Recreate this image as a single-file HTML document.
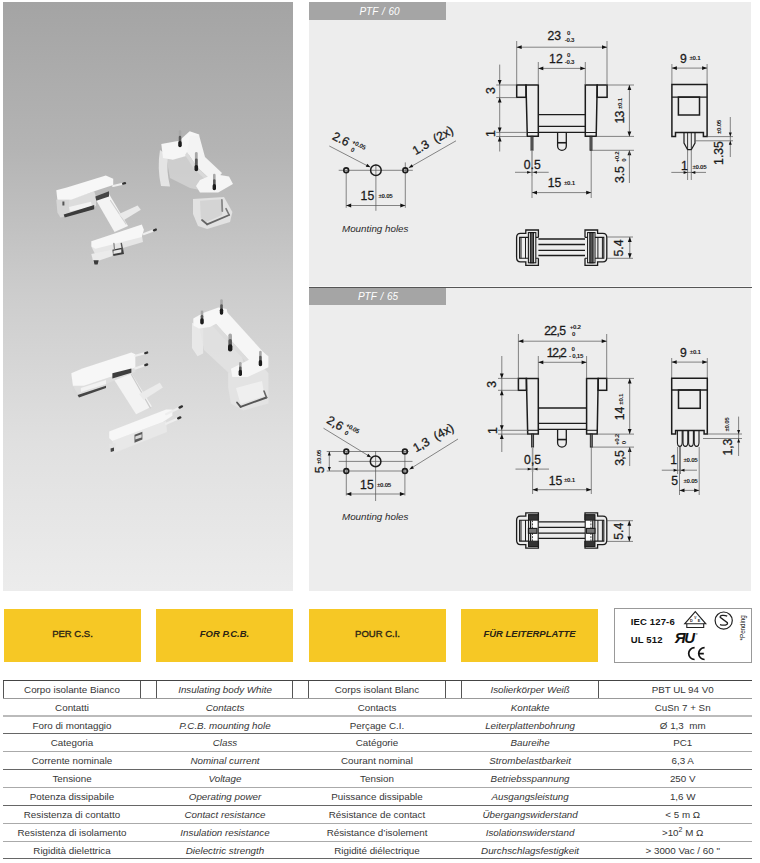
<!DOCTYPE html>
<html><head><meta charset="utf-8">
<style>
html,body{margin:0;padding:0;background:#fff;}
body{width:760px;height:863px;position:relative;overflow:hidden;font-family:"Liberation Sans",sans-serif;color:#222;}
.a{position:absolute;}
.photo{left:3px;top:2px;width:290px;height:589px;background:linear-gradient(180deg,#a4a4a4 0%,#b4b4b4 25%,#cdcdcd 50%,#e0e0e0 75%,#ececec 100%);overflow:hidden;}
.panel{left:309px;width:442px;background:#ededed;}
.hdr{left:309px;width:137px;height:17px;background:#a5a5a5;color:#fff;font-style:italic;font-size:10px;line-height:18px;text-align:center;box-sizing:border-box;padding-left:4px;word-spacing:1px;}
.yel{top:609px;height:53px;width:137px;background:#f6c825;color:#2b2414;font-size:9.5px;line-height:50px;text-align:center;-webkit-text-stroke:0.35px #2b2414;}
.yb{font-weight:bold;-webkit-text-stroke:0;}
.cert{left:614px;top:608px;width:136px;height:53px;border:1px solid #999;background:#fff;}
.hl{position:absolute;height:1px;left:3px;width:749px;}
.cell{position:absolute;height:17px;line-height:17px;font-size:9.8px;text-align:center;width:137px;color:#363636;}
.i{font-style:italic;}
.vl{position:absolute;width:1px;background:#555;top:681px;height:17px;}
</style></head>
<body>
<div class="a photo"></div>
<div class="a panel" style="top:2px;height:285px;"></div>
<div class="a" style="left:309px;top:286px;width:442px;height:1px;background:#f6f6f6;"></div>
<div class="a hdr" style="top:2px;height:18px;line-height:19px;">PTF / 60</div>
<div class="a" style="left:309px;top:287px;width:443px;height:1px;background:#555;"></div>
<div class="a panel" style="top:288px;height:303px;"></div>
<div class="a hdr" style="top:288px;padding-left:1px;line-height:18px;">PTF / 65</div>

<div class="a yel" style="left:4px;">PER C.S.</div>
<div class="a yel i yb" style="left:156px;">FOR P.C.B.</div>
<div class="a yel" style="left:309px;">POUR C.I.</div>
<div class="a yel i yb" style="left:461px;">FÜR LEITERPLATTE</div>
<div class="a cert"></div>

<!-- table lines -->
<div class="hl" style="top:680px;background:#444;"></div>
<div class="hl" style="top:698px;background:#999;"></div>
<div class="hl" style="top:715px;background:#bbb;height:2px;"></div>
<div class="hl" style="top:733px;background:#666;"></div>
<div class="hl" style="top:751px;background:#aaa;"></div>
<div class="hl" style="top:769px;background:#666;"></div>
<div class="hl" style="top:787px;background:#aaa;"></div>
<div class="hl" style="top:805px;background:#666;"></div>
<div class="hl" style="top:823px;background:#aaa;"></div>
<div class="hl" style="top:841px;background:#aaa;"></div>
<div class="hl" style="top:858px;background:#666;"></div>
<div class="vl" style="left:3px;"></div>
<div class="vl" style="left:140px;"></div>
<div class="vl" style="left:156px;"></div>
<div class="vl" style="left:292px;"></div>
<div class="vl" style="left:308px;"></div>
<div class="vl" style="left:445px;"></div>
<div class="vl" style="left:461px;"></div>
<div class="vl" style="left:598px;"></div>

<!--SVG-->
<svg class="a" style="left:0;top:0" width="760" height="863" viewBox="0 0 760 863" font-family="Liberation Sans, sans-serif">
<defs><filter id="pb" x="-5%" y="-5%" width="110%" height="110%"><feGaussianBlur stdDeviation="0.6"/></filter></defs>
<g filter="url(#pb)"><polygon points="96.0,200.0 109.0,194.0 128.0,226.0 114.5,232.0" fill="#f4f4f4"/>
<line x1="110.5" y1="200.5" x2="126" y2="224" stroke="#d0d0d0" stroke-width="1.2" stroke-linecap="round"/>
<polygon points="119.0,214.0 137.6,205.5 140.8,209.7 124.0,220.0" fill="#eaeaea"/>
<polygon points="56.3,199.7 69.0,199.7 69.0,215.5 60.5,217.6 57.4,212.4" fill="#d6d6d6"/>
<polygon points="69.0,199.7 94.2,191.3 96.0,197.0 96.0,206.0 64.7,217.6 69.0,212.0" fill="#dcdcdc"/>
<polygon points="56.3,190.3 66.8,187.6 105.8,175.5 113.2,178.7 113.2,185.0 94.2,191.3 71.0,199.7 57.4,199.7" fill="#f7f7f7"/>
<polygon points="69.0,207.1 91.0,201.8 92.1,207.1 70.0,211.3" fill="#f2f2f2"/>
<polygon points="63.7,214.5 94.2,205.0 94.2,209.2 64.7,217.6" fill="#3a3a3a"/>
<polygon points="62.4,201.5 64.4,201.5 64.4,205.5 62.4,205.5" fill="#555"/>
<polygon points="95.3,196.6 109.0,191.3 109.0,196.6 96.3,200.8" fill="#454545"/>
<line x1="113.2" y1="186" x2="125" y2="183.2" stroke="#eeeeee" stroke-width="2.2" stroke-linecap="round"/>
<line x1="123.23" y1="183.62" x2="125" y2="183.2" stroke="#333" stroke-width="2.4" stroke-linecap="round"/>
<polygon points="91.3,246.6 141.8,235.0 143.0,242.0 96.0,256.0" fill="#e6e6e6"/>
<polygon points="91.3,241.3 141.8,224.5 143.9,229.7 141.8,237.1 95.5,248.7 91.3,246.6" fill="#f7f7f7"/>
<line x1="144" y1="234" x2="155.8" y2="229.6" stroke="#eeeeee" stroke-width="2.2" stroke-linecap="round"/>
<line x1="154.03" y1="230.26" x2="155.8" y2="229.6" stroke="#333" stroke-width="2.4" stroke-linecap="round"/>
<polygon points="91.3,254.0 112.4,249.7 112.4,256.0 93.4,262.4" fill="#ebebeb"/>
<polygon points="112.4,249.7 122.9,247.6 124.0,254.0 113.4,256.0" fill="#3d3d3d"/>
<polygon points="113.4,250.8 121.3,249.2 121.3,252.4 113.4,254.0" fill="#e6e6e6"/>
<line x1="113.9" y1="243.4" x2="114.5" y2="249.7" stroke="#777" stroke-width="1.1" stroke-linecap="round"/>
<line x1="121.3" y1="243.4" x2="122.4" y2="249.2" stroke="#555" stroke-width="1.4" stroke-linecap="round"/>
<polygon points="93.4,260.3 98.7,260.3 97.6,264.5 94.5,264.5" fill="#3a3a3a"/>
<path d="M160,150 Q157,168 161,186 L170,186.5 Q166,170 168,156 Z" fill="#ececec" fill-opacity="0.85"/>
<polygon points="166.0,156.0 186.0,152.0 198.0,168.0 210.0,184.0 200.0,190.0 190.0,188.0 170.0,178.0" fill="#dedede" fill-opacity="0.6"/>
<polygon points="161.3,143.9 179.2,140.8 189.7,131.3 199.2,134.5 198.2,149.2 186.0,156.0 172.9,159.7 163.0,158.0" fill="#f6f6f6"/>
<polygon points="190.0,136.0 199.0,135.0 205.0,157.0 222.0,173.0 214.0,183.0 197.0,167.0 187.0,152.0" fill="#f3f3f3"/>
<polygon points="187.0,152.0 197.0,167.0 214.0,183.0 210.0,184.0 194.0,169.0 185.0,155.0" fill="#d9d9d9"/>
<polygon points="200.0,180.0 214.0,174.0 229.0,176.6 233.0,184.0 218.2,192.4 200.0,192.4 196.0,186.0" fill="#f5f5f5"/>
<polygon points="193.0,199.0 224.0,197.0 232.4,212.0 230.0,222.0 207.1,229.0 198.0,226.0 193.0,214.0" fill="#e2e2e2"/>
<polygon points="200.0,200.8 222.1,199.2 222.1,215.0 206.3,222.1 200.8,218.1" fill="#d4d4d4"/>
<line x1="202" y1="220" x2="207.1" y2="224.3" stroke="#666" stroke-width="1.8" stroke-linecap="round"/>
<line x1="207.1" y1="224.3" x2="229.2" y2="215" stroke="#666" stroke-width="1.8" stroke-linecap="round"/>
<line x1="229.2" y1="215" x2="226" y2="208.7" stroke="#777" stroke-width="1.6" stroke-linecap="round"/>
<line x1="221.9" y1="200" x2="222.3" y2="211" stroke="#888" stroke-width="1.8" stroke-linecap="round"/>
<line x1="180" y1="131.5" x2="180" y2="145.5" stroke="#a8a8a8" stroke-width="2.6" stroke-linecap="round"/>
<line x1="180" y1="137.1" x2="180" y2="145.5" stroke="#5a5a5a" stroke-width="2.5" stroke-linecap="round"/>
<line x1="180" y1="142.7" x2="180" y2="145.5" stroke="#1c1c1c" stroke-width="3.4" stroke-linecap="round"/>
<line x1="196.3" y1="153.4" x2="196.3" y2="169.5" stroke="#a8a8a8" stroke-width="2.8000000000000003" stroke-linecap="round"/>
<line x1="196.3" y1="159.84" x2="196.3" y2="169.5" stroke="#5a5a5a" stroke-width="2.7" stroke-linecap="round"/>
<line x1="196.3" y1="166.7" x2="196.3" y2="169.5" stroke="#1c1c1c" stroke-width="3.6" stroke-linecap="round"/>
<line x1="214.3" y1="175" x2="214.3" y2="188.5" stroke="#a8a8a8" stroke-width="2.6" stroke-linecap="round"/>
<line x1="214.3" y1="180.4" x2="214.3" y2="188.5" stroke="#5a5a5a" stroke-width="2.5" stroke-linecap="round"/>
<line x1="214.3" y1="185.7" x2="214.3" y2="188.5" stroke="#1c1c1c" stroke-width="3.4" stroke-linecap="round"/>
<polygon points="114.0,379.5 131.4,373.2 151.9,406.4 136.1,414.2" fill="#f3f3f3"/>
<line x1="131.4" y1="374.5" x2="150.3" y2="407.9" stroke="#cccccc" stroke-width="1.2" stroke-linecap="round"/>
<polygon points="139.0,394.0 159.8,382.7 162.9,387.4 143.5,400.0" fill="#ebebeb"/>
<polygon points="71.3,373.2 72.9,385.8 79.0,396.0 74.5,395.0 71.0,386.0" fill="#d8d8d8"/>
<polygon points="72.9,385.8 84.0,385.8 112.4,376.3 135.3,367.6 135.3,372.0 112.0,381.5 79.0,396.0" fill="#dedede"/>
<polygon points="71.3,373.2 82.4,368.4 131.4,352.6 135.3,354.2 135.3,367.6 112.4,376.3 84.0,385.8 72.9,385.8" fill="#f7f7f7"/>
<polygon points="80.8,388.0 106.0,380.0 106.0,384.0 81.0,392.0" fill="#f2f2f2"/>
<polygon points="77.6,395.0 106.0,385.8 106.0,388.0 79.0,397.5" fill="#444"/>
<polygon points="112.4,373.2 131.4,368.4 131.4,372.8 112.4,378.6" fill="#3e3e3e"/>
<line x1="135.3" y1="355.8" x2="147.1" y2="352.6" stroke="#eeeeee" stroke-width="2.2" stroke-linecap="round"/>
<line x1="145.32999999999998" y1="353.08000000000004" x2="147.1" y2="352.6" stroke="#333" stroke-width="2.4" stroke-linecap="round"/>
<line x1="135.3" y1="368.4" x2="147.1" y2="364.5" stroke="#eeeeee" stroke-width="2.2" stroke-linecap="round"/>
<line x1="145.32999999999998" y1="365.085" x2="147.1" y2="364.5" stroke="#333" stroke-width="2.4" stroke-linecap="round"/>
<polygon points="112.4,441.1 166.0,421.0 167.0,432.0 114.0,453.0" fill="#e8e8e8"/>
<polygon points="109.2,431.6 166.1,409.5 172.4,409.5 172.4,415.8 162.9,422.1 112.4,441.1 109.2,437.9" fill="#f7f7f7"/>
<polygon points="134.5,434.8 142.4,431.8 142.4,439.6 134.5,442.7" fill="#5a5a5a"/>
<polygon points="135.3,436.5 141.6,434.2 141.6,437.4 135.3,439.6" fill="#dadada"/>
<line x1="166.1" y1="414.2" x2="181.9" y2="406.4" stroke="#eeeeee" stroke-width="2.2" stroke-linecap="round"/>
<line x1="179.53" y1="407.57" x2="181.9" y2="406.4" stroke="#333" stroke-width="2.4" stroke-linecap="round"/>
<line x1="166.1" y1="423.7" x2="180.3" y2="417.4" stroke="#eeeeee" stroke-width="2.2" stroke-linecap="round"/>
<line x1="178.17000000000002" y1="418.34499999999997" x2="180.3" y2="417.4" stroke="#333" stroke-width="2.4" stroke-linecap="round"/>
<polygon points="109.2,444.3 115.6,442.7 115.6,453.7 110.8,455.3" fill="#e4e4e4"/>
<polygon points="110.5,448.5 114.0,447.5 114.0,451.0 110.8,452.0" fill="#444"/>
<polygon points="192.0,322.8 203.1,327.0 203.1,353.4 197.5,356.2 192.0,347.9" fill="#ececec" fill-opacity="0.85"/>
<polygon points="199.0,326.0 212.0,321.0 242.0,356.0 246.0,374.0 232.0,376.0 204.0,350.0" fill="#e4e4e4" fill-opacity="0.75"/>
<polygon points="228.1,372.9 262.9,367.3 268.4,372.9 268.4,403.5 243.4,410.4 230.9,403.5 228.1,386.8" fill="#e3e3e3"/>
<polygon points="236.0,388.0 262.0,381.0 264.5,396.0 240.5,404.0" fill="#efefef"/>
<line x1="237" y1="402.5" x2="240.6" y2="406.8" stroke="#555" stroke-width="1.8" stroke-linecap="round"/>
<line x1="240.6" y1="406.8" x2="266.5" y2="397.5" stroke="#555" stroke-width="1.9" stroke-linecap="round"/>
<line x1="266.5" y1="397.5" x2="264" y2="391" stroke="#666" stroke-width="1.6" stroke-linecap="round"/>
<polygon points="210.0,317.3 226.7,311.7 265.7,354.8 250.4,361.8" fill="#f6f6f6"/>
<polygon points="210.0,317.3 250.4,361.8 247.0,363.0 207.0,320.0" fill="#dcdcdc"/>
<polygon points="193.3,318.6 203.1,313.1 218.4,307.5 226.7,308.9 228.1,317.3 210.0,327.0 198.9,328.4 193.3,325.6" fill="#f7f7f7"/>
<polygon points="230.9,368.7 247.6,360.4 262.9,352.0 268.4,356.2 268.4,367.3 247.6,377.1 232.3,377.1" fill="#f6f6f6"/>
<line x1="202" y1="311.7" x2="202" y2="322.8" stroke="#a8a8a8" stroke-width="2.6" stroke-linecap="round"/>
<line x1="202" y1="316.14" x2="202" y2="322.8" stroke="#5a5a5a" stroke-width="2.5" stroke-linecap="round"/>
<line x1="202" y1="320.0" x2="202" y2="322.8" stroke="#1c1c1c" stroke-width="3.4" stroke-linecap="round"/>
<line x1="221.5" y1="300.6" x2="221.5" y2="313.1" stroke="#a8a8a8" stroke-width="2.6" stroke-linecap="round"/>
<line x1="221.5" y1="305.6" x2="221.5" y2="313.1" stroke="#5a5a5a" stroke-width="2.5" stroke-linecap="round"/>
<line x1="221.5" y1="310.3" x2="221.5" y2="313.1" stroke="#1c1c1c" stroke-width="3.4" stroke-linecap="round"/>
<line x1="230.2" y1="335.3" x2="230.2" y2="349.2" stroke="#a8a8a8" stroke-width="3.6" stroke-linecap="round"/>
<line x1="230.2" y1="340.86" x2="230.2" y2="349.2" stroke="#5a5a5a" stroke-width="3.5" stroke-linecap="round"/>
<line x1="230.2" y1="346.4" x2="230.2" y2="349.2" stroke="#1c1c1c" stroke-width="4.4" stroke-linecap="round"/>
<line x1="240.3" y1="363.2" x2="240.3" y2="374.3" stroke="#a8a8a8" stroke-width="2.6" stroke-linecap="round"/>
<line x1="240.3" y1="367.64" x2="240.3" y2="374.3" stroke="#5a5a5a" stroke-width="2.5" stroke-linecap="round"/>
<line x1="240.3" y1="371.5" x2="240.3" y2="374.3" stroke="#1c1c1c" stroke-width="3.4" stroke-linecap="round"/>
<line x1="260.4" y1="352" x2="260.4" y2="364.5" stroke="#a8a8a8" stroke-width="2.6" stroke-linecap="round"/>
<line x1="260.4" y1="357.0" x2="260.4" y2="364.5" stroke="#5a5a5a" stroke-width="2.5" stroke-linecap="round"/>
<line x1="260.4" y1="361.7" x2="260.4" y2="364.5" stroke="#1c1c1c" stroke-width="3.4" stroke-linecap="round"/></g>
<rect x="516.70" y="85.00" width="9.30" height="12.30" stroke="#1c1c1c" stroke-width="1.5" fill="none"/>
<rect x="597.20" y="85.00" width="9.90" height="12.30" stroke="#1c1c1c" stroke-width="1.5" fill="none"/>
<path d="M526,85 H538.3 V136.3 H527.3 Z" stroke="#1c1c1c" stroke-width="1.5" fill="none" />
<path d="M585.3,85 H597.2 L596.2,136.3 H585.3 Z" stroke="#1c1c1c" stroke-width="1.5" fill="none" />
<line x1="527.10" y1="132.50" x2="538.30" y2="132.50" stroke="#1c1c1c" stroke-width="1.0"/>
<line x1="585.30" y1="132.50" x2="596.30" y2="132.50" stroke="#1c1c1c" stroke-width="1.0"/>
<line x1="538.30" y1="114.70" x2="585.30" y2="114.70" stroke="#1c1c1c" stroke-width="1.3"/>
<line x1="538.30" y1="126.30" x2="585.30" y2="126.30" stroke="#1c1c1c" stroke-width="1.3"/>
<line x1="538.30" y1="132.40" x2="585.30" y2="132.40" stroke="#1c1c1c" stroke-width="1.3"/>
<path d="M557.6,132.4 V145.95000000000005 A4.349999999999966,4.349999999999966 0 0 0 566.3,145.95000000000005 V132.4" stroke="#1c1c1c" stroke-width="1.3" fill="none" />
<line x1="557.60" y1="142.75" x2="566.30" y2="142.75" stroke="#1c1c1c" stroke-width="1.6"/>
<rect x="531.00" y="136.30" width="2.00" height="14.00" stroke="#222" stroke-width="0.9" fill="#777"/>
<rect x="590.00" y="136.30" width="2.00" height="14.00" stroke="#222" stroke-width="0.9" fill="#777"/>
<line x1="516.70" y1="41.00" x2="516.70" y2="85.00" stroke="#555" stroke-width="0.7"/>
<line x1="607.00" y1="41.00" x2="607.00" y2="85.00" stroke="#555" stroke-width="0.7"/>
<line x1="516.70" y1="47.20" x2="607.00" y2="47.20" stroke="#555" stroke-width="0.7"/>
<path d="M516.70,47.20 L521.70,45.30 L521.70,49.10 Z" fill="#111"/>
<path d="M607.00,47.20 L602.00,49.10 L602.00,45.30 Z" fill="#111"/>
<text x="554.30" y="40.40" font-size="12.2" text-anchor="middle" font-weight="normal" font-style="normal" fill="#1a1a1a" stroke="#1a1a1a" stroke-width="0.28">23</text>
<text x="568.60" y="35.20" font-size="6.2" text-anchor="middle" font-weight="bold" font-style="normal" fill="#1a1a1a" letter-spacing="-0.3">0</text>
<text x="569.50" y="41.60" font-size="6.2" text-anchor="middle" font-weight="bold" font-style="normal" fill="#1a1a1a" letter-spacing="-0.3">-0.3</text>
<line x1="538.30" y1="62.00" x2="538.30" y2="85.00" stroke="#555" stroke-width="0.7"/>
<line x1="585.30" y1="62.00" x2="585.30" y2="85.00" stroke="#555" stroke-width="0.7"/>
<line x1="538.30" y1="68.40" x2="585.30" y2="68.40" stroke="#555" stroke-width="0.7"/>
<path d="M538.30,68.40 L543.30,66.50 L543.30,70.30 Z" fill="#111"/>
<path d="M585.30,68.40 L580.30,70.30 L580.30,66.50 Z" fill="#111"/>
<text x="555.90" y="62.50" font-size="12.2" text-anchor="middle" font-weight="normal" font-style="normal" fill="#1a1a1a" stroke="#1a1a1a" stroke-width="0.28">12</text>
<text x="568.60" y="57.30" font-size="6.2" text-anchor="middle" font-weight="bold" font-style="normal" fill="#1a1a1a" letter-spacing="-0.3">0</text>
<text x="569.50" y="63.50" font-size="6.2" text-anchor="middle" font-weight="bold" font-style="normal" fill="#1a1a1a" letter-spacing="-0.3">-0.3</text>
<line x1="499.70" y1="64.60" x2="499.70" y2="151.50" stroke="#555" stroke-width="0.7"/>
<path d="M499.70,85.00 L497.80,80.00 L501.60,80.00 Z" fill="#111"/>
<path d="M499.70,97.60 L501.60,102.60 L497.80,102.60 Z" fill="#111"/>
<path d="M499.70,132.40 L497.80,127.40 L501.60,127.40 Z" fill="#111"/>
<path d="M499.70,136.50 L501.60,141.50 L497.80,141.50 Z" fill="#111"/>
<line x1="496.20" y1="85.00" x2="516.70" y2="85.00" stroke="#555" stroke-width="0.7"/>
<line x1="496.20" y1="97.60" x2="516.70" y2="97.60" stroke="#555" stroke-width="0.7"/>
<line x1="496.20" y1="132.40" x2="527.00" y2="132.40" stroke="#555" stroke-width="0.7"/>
<line x1="496.20" y1="136.50" x2="527.00" y2="136.50" stroke="#555" stroke-width="0.7"/>
<text x="494.60" y="90.70" font-size="12.2" text-anchor="middle" font-weight="normal" font-style="normal" fill="#1a1a1a" stroke="#1a1a1a" stroke-width="0.28" transform="rotate(-90 494.60 90.70)">3</text>
<text x="494.60" y="133.60" font-size="12.2" text-anchor="middle" font-weight="normal" font-style="normal" fill="#1a1a1a" stroke="#1a1a1a" stroke-width="0.28" transform="rotate(-90 494.60 133.60)">1</text>
<line x1="607.10" y1="85.00" x2="634.00" y2="85.00" stroke="#555" stroke-width="0.7"/>
<line x1="596.50" y1="136.40" x2="634.00" y2="136.40" stroke="#555" stroke-width="0.7"/>
<line x1="592.00" y1="150.30" x2="634.00" y2="150.30" stroke="#555" stroke-width="0.7"/>
<line x1="629.40" y1="85.00" x2="629.40" y2="136.40" stroke="#555" stroke-width="0.7"/>
<path d="M629.40,85.00 L631.30,90.00 L627.50,90.00 Z" fill="#111"/>
<path d="M629.40,136.40 L627.50,131.40 L631.30,131.40 Z" fill="#111"/>
<path d="M629.40,150.30 L631.30,155.30 L627.50,155.30 Z" fill="#111"/>
<line x1="629.40" y1="150.30" x2="629.40" y2="183.00" stroke="#555" stroke-width="0.7"/>
<text x="624.30" y="117.60" font-size="12.2" text-anchor="middle" font-weight="normal" font-style="normal" fill="#1a1a1a" stroke="#1a1a1a" stroke-width="0.28" transform="rotate(-90 624.30 117.60)" letter-spacing="-0.8">13</text>
<text x="621.80" y="103.60" font-size="6.2" text-anchor="middle" font-weight="bold" font-style="normal" fill="#1a1a1a" transform="rotate(-90 621.80 103.60)" letter-spacing="-0.3">±0.1</text>
<text x="624.30" y="174.60" font-size="12.2" text-anchor="middle" font-weight="normal" font-style="normal" fill="#1a1a1a" stroke="#1a1a1a" stroke-width="0.28" transform="rotate(-90 624.30 174.60)">3.5</text>
<text x="618.80" y="157.00" font-size="6.2" text-anchor="middle" font-weight="bold" font-style="normal" fill="#1a1a1a" transform="rotate(-90 618.80 157.00)" letter-spacing="-0.3">+0.2</text>
<text x="625.60" y="160.20" font-size="6.2" text-anchor="middle" font-weight="bold" font-style="normal" fill="#1a1a1a" transform="rotate(-90 625.60 160.20)" letter-spacing="-0.3">0</text>
<line x1="532" y1="150.3" x2="532" y2="176" stroke="#999" stroke-width="1.6"/>
<line x1="532.00" y1="176.00" x2="532.00" y2="198.00" stroke="#555" stroke-width="0.7"/>
<line x1="591.20" y1="150.30" x2="591.20" y2="198.00" stroke="#555" stroke-width="0.7"/>
<line x1="515.00" y1="172.30" x2="548.70" y2="172.30" stroke="#555" stroke-width="0.7"/>
<path d="M530.90,172.30 L527.10,173.70 L527.10,170.90 Z" fill="#111"/>
<path d="M533.10,172.30 L536.90,170.90 L536.90,173.70 Z" fill="#111"/>
<text x="532.20" y="169.30" font-size="12.2" text-anchor="middle" font-weight="normal" font-style="normal" fill="#1a1a1a" stroke="#1a1a1a" stroke-width="0.28">0.5</text>
<line x1="532.00" y1="192.60" x2="591.20" y2="192.60" stroke="#555" stroke-width="0.7"/>
<path d="M532.00,192.60 L537.00,190.70 L537.00,194.50 Z" fill="#111"/>
<path d="M591.20,192.60 L586.20,194.50 L586.20,190.70 Z" fill="#111"/>
<text x="554.50" y="187.30" font-size="12.2" text-anchor="middle" font-weight="normal" font-style="normal" fill="#1a1a1a" stroke="#1a1a1a" stroke-width="0.28">15</text>
<text x="564.00" y="185.20" font-size="6.2" text-anchor="start" font-weight="bold" font-style="normal" fill="#1a1a1a" letter-spacing="-0.3">±0.1</text>
<line x1="671.90" y1="64.00" x2="671.90" y2="84.60" stroke="#555" stroke-width="0.7"/>
<line x1="707.10" y1="64.00" x2="707.10" y2="84.60" stroke="#555" stroke-width="0.7"/>
<line x1="671.90" y1="68.10" x2="707.10" y2="68.10" stroke="#555" stroke-width="0.7"/>
<path d="M671.90,68.10 L676.90,66.20 L676.90,70.00 Z" fill="#111"/>
<path d="M707.10,68.10 L702.10,70.00 L702.10,66.20 Z" fill="#111"/>
<text x="683.30" y="63.00" font-size="12.2" text-anchor="middle" font-weight="normal" font-style="normal" fill="#1a1a1a" stroke="#1a1a1a" stroke-width="0.28">9</text>
<text x="689.50" y="59.70" font-size="6.2" text-anchor="start" font-weight="bold" font-style="normal" fill="#1a1a1a" letter-spacing="-0.3">±0.1</text>
<path d="M671.9,84.6 H707.1 V136.6 H703.4 V132.4 H675.5 V136.6 H671.9 Z" stroke="#1c1c1c" stroke-width="1.5" fill="none" />
<line x1="671.90" y1="97.10" x2="707.10" y2="97.10" stroke="#1c1c1c" stroke-width="1.3"/>
<rect x="678.40" y="97.10" width="21.10" height="17.90" stroke="#1c1c1c" stroke-width="1.5" fill="none"/>
<path d="M684,132.4 V143 L687.6,149.7 H691.3 L695,143 V132.4" stroke="#1c1c1c" stroke-width="1.2" fill="none" />
<line x1="687.60" y1="132.40" x2="687.60" y2="149.70" stroke="#1c1c1c" stroke-width="0.9"/>
<line x1="691.30" y1="132.40" x2="691.30" y2="149.70" stroke="#1c1c1c" stroke-width="0.9"/>
<line x1="687.60" y1="149.70" x2="687.60" y2="180.00" stroke="#555" stroke-width="0.7"/>
<line x1="691.30" y1="149.70" x2="691.30" y2="180.00" stroke="#555" stroke-width="0.7"/>
<line x1="671.30" y1="172.40" x2="706.00" y2="172.40" stroke="#555" stroke-width="0.7"/>
<path d="M687.60,172.40 L683.60,173.90 L683.60,170.90 Z" fill="#111"/>
<path d="M691.30,172.40 L695.30,170.90 L695.30,173.90 Z" fill="#111"/>
<text x="684.50" y="169.80" font-size="12.2" text-anchor="middle" font-weight="normal" font-style="normal" fill="#1a1a1a" stroke="#1a1a1a" stroke-width="0.28">1</text>
<text x="692.40" y="168.60" font-size="6.2" text-anchor="start" font-weight="bold" font-style="normal" fill="#1a1a1a" letter-spacing="-0.3">±0.05</text>
<line x1="707.60" y1="136.60" x2="733.00" y2="136.60" stroke="#555" stroke-width="0.7"/>
<line x1="695.50" y1="140.80" x2="733.00" y2="140.80" stroke="#555" stroke-width="0.7"/>
<line x1="730.30" y1="117.00" x2="730.30" y2="157.00" stroke="#555" stroke-width="0.7"/>
<path d="M730.30,136.60 L728.80,132.60 L731.80,132.60 Z" fill="#111"/>
<path d="M730.30,140.80 L731.80,144.80 L728.80,144.80 Z" fill="#111"/>
<text x="723.00" y="153.00" font-size="12.2" text-anchor="middle" font-weight="normal" font-style="normal" fill="#1a1a1a" stroke="#1a1a1a" stroke-width="0.28" transform="rotate(-90 723.00 153.00)">1.35</text>
<text x="721.20" y="127.00" font-size="6.2" text-anchor="middle" font-weight="bold" font-style="normal" fill="#1a1a1a" transform="rotate(-90 721.20 127.00)" letter-spacing="-0.3">±0.05</text>
<line x1="338.70" y1="170.30" x2="412.80" y2="170.30" stroke="#555" stroke-width="0.7"/>
<line x1="346.20" y1="170.30" x2="346.20" y2="207.80" stroke="#555" stroke-width="0.7"/>
<line x1="375.90" y1="164.40" x2="375.90" y2="210.80" stroke="#555" stroke-width="0.7"/>
<line x1="405.30" y1="162.40" x2="405.30" y2="207.80" stroke="#555" stroke-width="0.7"/>
<circle cx="346.20" cy="170.30" r="2.40" stroke="#1c1c1c" stroke-width="1.6" fill="none"/>
<circle cx="405.30" cy="170.30" r="2.40" stroke="#1c1c1c" stroke-width="1.6" fill="none"/>
<circle cx="375.90" cy="170.30" r="5.30" stroke="#1c1c1c" stroke-width="1.5" fill="none"/>
<line x1="346.20" y1="205.50" x2="405.30" y2="205.50" stroke="#555" stroke-width="0.7"/>
<path d="M346.20,205.50 L351.20,203.60 L351.20,207.40 Z" fill="#111"/>
<path d="M405.30,205.50 L400.30,207.40 L400.30,203.60 Z" fill="#111"/>
<text x="367.40" y="200.40" font-size="12.2" text-anchor="middle" font-weight="normal" font-style="normal" fill="#1a1a1a" stroke="#1a1a1a" stroke-width="0.28">15</text>
<text x="378.50" y="198.20" font-size="6.2" text-anchor="start" font-weight="bold" font-style="normal" fill="#1a1a1a" letter-spacing="-0.3">±0.05</text>
<line x1="329.30" y1="146.00" x2="367.40" y2="165.80" stroke="#555" stroke-width="0.7"/>
<path d="M370.60,167.30 L365.77,166.64 L367.23,163.79 Z" fill="#111"/>
<text x="331.60" y="139.00" font-size="12.2" text-anchor="start" font-weight="normal" font-style="normal" fill="#1a1a1a" stroke="#1a1a1a" stroke-width="0.28" transform="rotate(26 331.60 139.00)">2.6</text>
<text x="351.60" y="143.60" font-size="6.2" text-anchor="start" font-weight="bold" font-style="normal" fill="#1a1a1a" transform="rotate(26 351.60 143.60)" letter-spacing="-0.3">+0.05</text>
<text x="350.20" y="151.00" font-size="6.2" text-anchor="start" font-weight="bold" font-style="normal" fill="#1a1a1a" transform="rotate(26 350.20 151.00)" letter-spacing="-0.3">0</text>
<line x1="456.00" y1="140.80" x2="411.50" y2="166.30" stroke="#555" stroke-width="0.7"/>
<path d="M408.50,168.00 L411.68,164.31 L413.28,167.09 Z" fill="#111"/>
<text x="415.50" y="155.20" font-size="12.2" text-anchor="start" font-weight="normal" font-style="normal" fill="#1a1a1a" stroke="#1a1a1a" stroke-width="0.28" transform="rotate(-30 415.50 155.20)">1.3&#160;&#160;(2x)</text>
<text x="342.00" y="231.60" font-size="9.8" text-anchor="start" font-weight="normal" font-style="italic" fill="#2a2a2a">Mounting holes</text>
<path d="M538.4,237.4 V230 H525.8 V233.4 H520.5 Q516.6,233.4 516.6,237.5 V257.5 Q516.6,261.8 520.5,261.8 H525.8 V265.3 H538.4 V258.3" stroke="#1c1c1c" stroke-width="1.3" fill="none" />
<path d="M538.4,237.4 H519.6 V258.3 H538.4" stroke="#1c1c1c" stroke-width="1.1" fill="none" />
<line x1="521.00" y1="237.40" x2="521.00" y2="258.30" stroke="#1c1c1c" stroke-width="1.0"/>
<line x1="525.50" y1="237.40" x2="525.50" y2="258.30" stroke="#1c1c1c" stroke-width="1.0"/>
<rect x="528.40" y="232.60" width="7.40" height="30.20" stroke="#1c1c1c" stroke-width="1.1" fill="#fff"/>
<rect x="530.30" y="232.60" width="3.30" height="30.20" stroke="#111" stroke-width="1.0" fill="#555"/>
<path d="M585.0000000000001,237.4 V230 H597.6000000000001 V233.4 H602.9000000000001 Q606.8000000000001,233.4 606.8000000000001,237.5 V257.5 Q606.8000000000001,261.8 602.9000000000001,261.8 H597.6000000000001 V265.3 H585.0000000000001 V258.3" stroke="#1c1c1c" stroke-width="1.3" fill="none" />
<path d="M585.0000000000001,237.4 H603.8000000000001 V258.3 H585.0000000000001" stroke="#1c1c1c" stroke-width="1.1" fill="none" />
<line x1="602.40" y1="237.40" x2="602.40" y2="258.30" stroke="#1c1c1c" stroke-width="1.0"/>
<line x1="597.90" y1="237.40" x2="597.90" y2="258.30" stroke="#1c1c1c" stroke-width="1.0"/>
<rect x="587.60" y="232.60" width="7.40" height="30.20" stroke="#1c1c1c" stroke-width="1.1" fill="#fff"/>
<rect x="589.80" y="232.60" width="3.30" height="30.20" stroke="#111" stroke-width="1.0" fill="#555"/>
<line x1="538.40" y1="239.00" x2="585.00" y2="239.00" stroke="#1c1c1c" stroke-width="1.3"/>
<line x1="538.40" y1="244.50" x2="585.00" y2="244.50" stroke="#1c1c1c" stroke-width="1.3"/>
<line x1="538.40" y1="250.40" x2="585.00" y2="250.40" stroke="#1c1c1c" stroke-width="1.3"/>
<line x1="538.40" y1="255.50" x2="585.00" y2="255.50" stroke="#1c1c1c" stroke-width="1.3"/>
<line x1="607.00" y1="237.00" x2="633.00" y2="237.00" stroke="#555" stroke-width="0.7"/>
<line x1="607.00" y1="258.30" x2="633.00" y2="258.30" stroke="#555" stroke-width="0.7"/>
<line x1="629.80" y1="237.00" x2="629.80" y2="258.30" stroke="#555" stroke-width="0.7"/>
<path d="M629.80,237.00 L631.70,242.00 L627.90,242.00 Z" fill="#111"/>
<path d="M629.80,258.30 L627.90,253.30 L631.70,253.30 Z" fill="#111"/>
<text x="623.20" y="248.00" font-size="12.2" text-anchor="middle" font-weight="normal" font-style="normal" fill="#1a1a1a" stroke="#1a1a1a" stroke-width="0.28" transform="rotate(-90 623.20 248.00)">5.4</text>
<rect x="518.40" y="378.40" width="8.00" height="11.90" stroke="#1c1c1c" stroke-width="1.5" fill="none"/>
<rect x="598.20" y="378.40" width="8.50" height="11.90" stroke="#1c1c1c" stroke-width="1.5" fill="none"/>
<path d="M526.4,378.4 H538.3 V434.1 H527.6999999999999 Z" stroke="#1c1c1c" stroke-width="1.5" fill="none" />
<path d="M586.6,378.4 H598.2 L597.2,434.1 H586.6 Z" stroke="#1c1c1c" stroke-width="1.5" fill="none" />
<line x1="527.50" y1="430.30" x2="538.30" y2="430.30" stroke="#1c1c1c" stroke-width="1.0"/>
<line x1="586.60" y1="430.30" x2="597.30" y2="430.30" stroke="#1c1c1c" stroke-width="1.0"/>
<line x1="538.30" y1="408.00" x2="586.60" y2="408.00" stroke="#1c1c1c" stroke-width="1.3"/>
<line x1="538.30" y1="423.40" x2="586.60" y2="423.40" stroke="#1c1c1c" stroke-width="1.3"/>
<line x1="538.30" y1="429.30" x2="586.60" y2="429.30" stroke="#1c1c1c" stroke-width="1.3"/>
<path d="M557.6,429.3 V442.75000000000006 A4.349999999999966,4.349999999999966 0 0 0 566.3,442.75000000000006 V429.3" stroke="#1c1c1c" stroke-width="1.3" fill="none" />
<line x1="557.60" y1="439.55" x2="566.30" y2="439.55" stroke="#1c1c1c" stroke-width="1.6"/>
<rect x="531.60" y="434.10" width="2.00" height="13.00" stroke="#222" stroke-width="0.9" fill="#777"/>
<rect x="590.30" y="434.10" width="2.00" height="13.00" stroke="#222" stroke-width="0.9" fill="#777"/>
<line x1="518.40" y1="334.00" x2="518.40" y2="378.40" stroke="#555" stroke-width="0.7"/>
<line x1="606.70" y1="334.00" x2="606.70" y2="378.40" stroke="#555" stroke-width="0.7"/>
<line x1="518.40" y1="341.20" x2="606.70" y2="341.20" stroke="#555" stroke-width="0.7"/>
<path d="M518.40,341.20 L523.40,339.30 L523.40,343.10 Z" fill="#111"/>
<path d="M606.70,341.20 L601.70,343.10 L601.70,339.30 Z" fill="#111"/>
<text x="554.80" y="335.00" font-size="12.2" text-anchor="middle" font-weight="normal" font-style="normal" fill="#1a1a1a" stroke="#1a1a1a" stroke-width="0.28" letter-spacing="-0.6">22,5</text>
<text x="575.20" y="329.40" font-size="6.2" text-anchor="middle" font-weight="bold" font-style="normal" fill="#1a1a1a" letter-spacing="-0.3">+0.2</text>
<text x="573.60" y="336.00" font-size="6.2" text-anchor="middle" font-weight="bold" font-style="normal" fill="#1a1a1a" letter-spacing="-0.3">0</text>
<line x1="538.30" y1="356.00" x2="538.30" y2="378.40" stroke="#555" stroke-width="0.7"/>
<line x1="586.60" y1="356.00" x2="586.60" y2="378.40" stroke="#555" stroke-width="0.7"/>
<line x1="538.30" y1="362.30" x2="586.60" y2="362.30" stroke="#555" stroke-width="0.7"/>
<path d="M538.30,362.30 L543.30,360.40 L543.30,364.20 Z" fill="#111"/>
<path d="M586.60,362.30 L581.60,364.20 L581.60,360.40 Z" fill="#111"/>
<text x="556.20" y="356.70" font-size="12.2" text-anchor="middle" font-weight="normal" font-style="normal" fill="#1a1a1a" stroke="#1a1a1a" stroke-width="0.28" letter-spacing="-1.2">12,2</text>
<text x="573.10" y="350.60" font-size="6.2" text-anchor="middle" font-weight="bold" font-style="normal" fill="#1a1a1a" letter-spacing="-0.3">0</text>
<text x="576.10" y="357.60" font-size="6.2" text-anchor="middle" font-weight="bold" font-style="normal" fill="#1a1a1a" letter-spacing="-0.3">- 0,15</text>
<line x1="501.80" y1="356.00" x2="501.80" y2="452.00" stroke="#555" stroke-width="0.7"/>
<path d="M501.80,378.40 L499.90,373.40 L503.70,373.40 Z" fill="#111"/>
<path d="M501.80,390.30 L503.70,395.30 L499.90,395.30 Z" fill="#111"/>
<path d="M501.80,430.30 L499.90,425.30 L503.70,425.30 Z" fill="#111"/>
<path d="M501.80,434.10 L503.70,439.10 L499.90,439.10 Z" fill="#111"/>
<line x1="498.00" y1="378.40" x2="518.40" y2="378.40" stroke="#555" stroke-width="0.7"/>
<line x1="498.00" y1="390.30" x2="518.40" y2="390.30" stroke="#555" stroke-width="0.7"/>
<line x1="498.00" y1="430.30" x2="528.00" y2="430.30" stroke="#555" stroke-width="0.7"/>
<line x1="498.00" y1="434.10" x2="528.00" y2="434.10" stroke="#555" stroke-width="0.7"/>
<text x="496.50" y="384.30" font-size="12.2" text-anchor="middle" font-weight="normal" font-style="normal" fill="#1a1a1a" stroke="#1a1a1a" stroke-width="0.28" transform="rotate(-90 496.50 384.30)">3</text>
<text x="496.50" y="430.50" font-size="12.2" text-anchor="middle" font-weight="normal" font-style="normal" fill="#1a1a1a" stroke="#1a1a1a" stroke-width="0.28" transform="rotate(-90 496.50 430.50)">1</text>
<line x1="606.70" y1="378.40" x2="634.00" y2="378.40" stroke="#555" stroke-width="0.7"/>
<line x1="597.00" y1="434.10" x2="634.00" y2="434.10" stroke="#555" stroke-width="0.7"/>
<line x1="592.00" y1="447.10" x2="634.00" y2="447.10" stroke="#555" stroke-width="0.7"/>
<line x1="629.70" y1="378.40" x2="629.70" y2="434.10" stroke="#555" stroke-width="0.7"/>
<path d="M629.70,378.40 L631.60,383.40 L627.80,383.40 Z" fill="#111"/>
<path d="M629.70,434.10 L627.80,429.10 L631.60,429.10 Z" fill="#111"/>
<path d="M629.70,447.10 L631.60,452.10 L627.80,452.10 Z" fill="#111"/>
<line x1="629.70" y1="447.10" x2="629.70" y2="466.00" stroke="#555" stroke-width="0.7"/>
<text x="624.30" y="413.40" font-size="12.2" text-anchor="middle" font-weight="normal" font-style="normal" fill="#1a1a1a" stroke="#1a1a1a" stroke-width="0.28" transform="rotate(-90 624.30 413.40)">14</text>
<text x="622.80" y="399.30" font-size="6.2" text-anchor="middle" font-weight="bold" font-style="normal" fill="#1a1a1a" transform="rotate(-90 622.80 399.30)" letter-spacing="-0.3">±0.1</text>
<text x="624.30" y="458.40" font-size="12.2" text-anchor="middle" font-weight="normal" font-style="normal" fill="#1a1a1a" stroke="#1a1a1a" stroke-width="0.28" transform="rotate(-90 624.30 458.40)" letter-spacing="-0.8">3,5</text>
<text x="618.80" y="439.50" font-size="6.2" text-anchor="middle" font-weight="bold" font-style="normal" fill="#1a1a1a" transform="rotate(-90 618.80 439.50)" letter-spacing="-0.3">+0.2</text>
<text x="625.80" y="442.70" font-size="6.2" text-anchor="middle" font-weight="bold" font-style="normal" fill="#1a1a1a" transform="rotate(-90 625.80 442.70)" letter-spacing="-0.3">0</text>
<line x1="532.6" y1="447.1" x2="532.6" y2="472" stroke="#999" stroke-width="1.6"/>
<line x1="532.60" y1="472.00" x2="532.60" y2="494.00" stroke="#555" stroke-width="0.7"/>
<line x1="591.30" y1="447.10" x2="591.30" y2="494.00" stroke="#555" stroke-width="0.7"/>
<line x1="515.50" y1="469.10" x2="549.00" y2="469.10" stroke="#555" stroke-width="0.7"/>
<path d="M531.50,469.10 L527.70,470.50 L527.70,467.70 Z" fill="#111"/>
<path d="M533.70,469.10 L537.50,467.70 L537.50,470.50 Z" fill="#111"/>
<text x="532.60" y="464.40" font-size="12.2" text-anchor="middle" font-weight="normal" font-style="normal" fill="#1a1a1a" stroke="#1a1a1a" stroke-width="0.28">0,5</text>
<line x1="532.60" y1="489.70" x2="591.30" y2="489.70" stroke="#555" stroke-width="0.7"/>
<path d="M532.60,489.70 L537.60,487.80 L537.60,491.60 Z" fill="#111"/>
<path d="M591.30,489.70 L586.30,491.60 L586.30,487.80 Z" fill="#111"/>
<text x="555.50" y="484.60" font-size="12.2" text-anchor="middle" font-weight="normal" font-style="normal" fill="#1a1a1a" stroke="#1a1a1a" stroke-width="0.28">15</text>
<text x="564.00" y="482.40" font-size="6.2" text-anchor="start" font-weight="bold" font-style="normal" fill="#1a1a1a" letter-spacing="-0.3">±0.1</text>
<line x1="671.70" y1="358.00" x2="671.70" y2="378.20" stroke="#555" stroke-width="0.7"/>
<line x1="707.30" y1="358.00" x2="707.30" y2="378.20" stroke="#555" stroke-width="0.7"/>
<line x1="671.70" y1="362.10" x2="707.30" y2="362.10" stroke="#555" stroke-width="0.7"/>
<path d="M671.70,362.10 L676.70,360.20 L676.70,364.00 Z" fill="#111"/>
<path d="M707.30,362.10 L702.30,364.00 L702.30,360.20 Z" fill="#111"/>
<text x="683.50" y="357.00" font-size="12.2" text-anchor="middle" font-weight="normal" font-style="normal" fill="#1a1a1a" stroke="#1a1a1a" stroke-width="0.28">9</text>
<text x="689.80" y="354.00" font-size="6.2" text-anchor="start" font-weight="bold" font-style="normal" fill="#1a1a1a" letter-spacing="-0.3">±0.1</text>
<path d="M671.7,378.2 H707.3 V434 H704.1 V430.4 H675.6 V434 H671.7 Z" stroke="#1c1c1c" stroke-width="1.5" fill="none" />
<line x1="671.70" y1="390.00" x2="707.30" y2="390.00" stroke="#1c1c1c" stroke-width="1.3"/>
<rect x="678.50" y="390.00" width="21.70" height="18.30" stroke="#1c1c1c" stroke-width="1.5" fill="none"/>
<path d="M677.4,430.4 V442 Q677.4,446.4 679.8,446.4 Q682.1999999999999,446.4 682.1999999999999,442 V430.4" stroke="#1c1c1c" stroke-width="1.1" fill="none" />
<path d="M683.0,430.4 V442 Q683.0,446.4 685.4,446.4 Q687.8,446.4 687.8,442 V430.4" stroke="#1c1c1c" stroke-width="1.1" fill="none" />
<path d="M688.6,430.4 V442 Q688.6,446.4 691.0,446.4 Q693.4,446.4 693.4,442 V430.4" stroke="#1c1c1c" stroke-width="1.1" fill="none" />
<path d="M694.2,430.4 V442 Q694.2,446.4 696.6,446.4 Q699.0,446.4 699.0,442 V430.4" stroke="#1c1c1c" stroke-width="1.1" fill="none" />
<line x1="677.60" y1="447.00" x2="677.60" y2="474.00" stroke="#555" stroke-width="0.7"/>
<line x1="680.50" y1="447.00" x2="680.50" y2="474.00" stroke="#555" stroke-width="0.7"/>
<line x1="679.50" y1="447.00" x2="679.50" y2="495.00" stroke="#555" stroke-width="0.7"/>
<line x1="699.20" y1="447.00" x2="699.20" y2="495.00" stroke="#555" stroke-width="0.7"/>
<line x1="661.80" y1="470.20" x2="697.00" y2="470.20" stroke="#555" stroke-width="0.7"/>
<path d="M677.60,470.20 L673.60,471.70 L673.60,468.70 Z" fill="#111"/>
<path d="M680.50,470.20 L684.50,468.70 L684.50,471.70 Z" fill="#111"/>
<text x="673.60" y="464.30" font-size="12.2" text-anchor="middle" font-weight="normal" font-style="normal" fill="#1a1a1a" stroke="#1a1a1a" stroke-width="0.28">1</text>
<text x="683.50" y="462.20" font-size="6.2" text-anchor="start" font-weight="bold" font-style="normal" fill="#1a1a1a" letter-spacing="-0.3">±0.05</text>
<line x1="679.50" y1="490.40" x2="699.20" y2="490.40" stroke="#555" stroke-width="0.7"/>
<path d="M679.50,490.40 L684.50,488.50 L684.50,492.30 Z" fill="#111"/>
<path d="M699.20,490.40 L694.20,492.30 L694.20,488.50 Z" fill="#111"/>
<text x="674.60" y="484.90" font-size="12.2" text-anchor="middle" font-weight="normal" font-style="normal" fill="#1a1a1a" stroke="#1a1a1a" stroke-width="0.28">5</text>
<text x="683.50" y="482.60" font-size="6.2" text-anchor="start" font-weight="bold" font-style="normal" fill="#1a1a1a" letter-spacing="-0.3">±0.05</text>
<line x1="707.30" y1="434.00" x2="742.00" y2="434.00" stroke="#555" stroke-width="0.7"/>
<line x1="703.00" y1="438.50" x2="742.00" y2="438.50" stroke="#555" stroke-width="0.7"/>
<line x1="738.60" y1="416.60" x2="738.60" y2="456.00" stroke="#555" stroke-width="0.7"/>
<path d="M738.60,434.00 L737.10,430.00 L740.10,430.00 Z" fill="#111"/>
<path d="M738.60,438.50 L740.10,442.50 L737.10,442.50 Z" fill="#111"/>
<text x="732.00" y="447.10" font-size="12.2" text-anchor="middle" font-weight="normal" font-style="normal" fill="#1a1a1a" stroke="#1a1a1a" stroke-width="0.28" transform="rotate(-90 732.00 447.10)">1,3</text>
<text x="728.80" y="424.50" font-size="6.2" text-anchor="middle" font-weight="bold" font-style="normal" fill="#1a1a1a" transform="rotate(-90 728.80 424.50)" letter-spacing="-0.3">±0.05</text>
<line x1="326.70" y1="451.50" x2="408.80" y2="451.50" stroke="#555" stroke-width="0.7"/>
<line x1="326.70" y1="471.00" x2="408.80" y2="471.00" stroke="#555" stroke-width="0.7"/>
<line x1="338.70" y1="461.40" x2="412.50" y2="461.40" stroke="#555" stroke-width="0.7"/>
<line x1="346.30" y1="451.50" x2="346.30" y2="495.50" stroke="#555" stroke-width="0.7"/>
<line x1="404.90" y1="451.50" x2="404.90" y2="495.50" stroke="#555" stroke-width="0.7"/>
<line x1="375.60" y1="451.00" x2="375.60" y2="501.00" stroke="#555" stroke-width="0.7"/>
<circle cx="346.30" cy="451.50" r="2.40" stroke="#1c1c1c" stroke-width="1.6" fill="none"/>
<circle cx="346.30" cy="471.00" r="2.40" stroke="#1c1c1c" stroke-width="1.6" fill="none"/>
<circle cx="404.90" cy="451.50" r="2.40" stroke="#1c1c1c" stroke-width="1.6" fill="none"/>
<circle cx="404.90" cy="471.00" r="2.40" stroke="#1c1c1c" stroke-width="1.6" fill="none"/>
<circle cx="375.60" cy="461.40" r="5.30" stroke="#1c1c1c" stroke-width="1.5" fill="none"/>
<line x1="329.30" y1="451.50" x2="329.30" y2="471.00" stroke="#555" stroke-width="0.7"/>
<path d="M329.30,451.50 L330.80,455.50 L327.80,455.50 Z" fill="#111"/>
<path d="M329.30,471.00 L327.80,467.00 L330.80,467.00 Z" fill="#111"/>
<text x="323.70" y="469.90" font-size="12.2" text-anchor="middle" font-weight="normal" font-style="normal" fill="#1a1a1a" stroke="#1a1a1a" stroke-width="0.28" transform="rotate(-90 323.70 469.90)">5</text>
<text x="321.40" y="457.00" font-size="6.2" text-anchor="middle" font-weight="bold" font-style="normal" fill="#1a1a1a" transform="rotate(-90 321.40 457.00)" letter-spacing="-0.3">±0.05</text>
<line x1="346.30" y1="494.00" x2="404.90" y2="494.00" stroke="#555" stroke-width="0.7"/>
<path d="M346.30,494.00 L351.30,492.10 L351.30,495.90 Z" fill="#111"/>
<path d="M404.90,494.00 L399.90,495.90 L399.90,492.10 Z" fill="#111"/>
<text x="366.90" y="489.00" font-size="12.2" text-anchor="middle" font-weight="normal" font-style="normal" fill="#1a1a1a" stroke="#1a1a1a" stroke-width="0.28">15</text>
<text x="377.00" y="487.00" font-size="6.2" text-anchor="start" font-weight="bold" font-style="normal" fill="#1a1a1a" letter-spacing="-0.3">±0.05</text>
<line x1="323.50" y1="428.20" x2="368.60" y2="455.80" stroke="#555" stroke-width="0.7"/>
<path d="M371.40,457.60 L366.64,456.56 L368.31,453.83 Z" fill="#111"/>
<text x="325.80" y="422.50" font-size="12.2" text-anchor="start" font-weight="normal" font-style="normal" fill="#1a1a1a" stroke="#1a1a1a" stroke-width="0.28" transform="rotate(30 325.80 422.50)">2,6</text>
<text x="345.50" y="426.50" font-size="6.2" text-anchor="start" font-weight="bold" font-style="normal" fill="#1a1a1a" transform="rotate(30 345.50 426.50)" letter-spacing="-0.3">+0.05</text>
<text x="344.00" y="434.00" font-size="6.2" text-anchor="start" font-weight="bold" font-style="normal" fill="#1a1a1a" transform="rotate(30 344.00 434.00)" letter-spacing="-0.3">0</text>
<line x1="458.00" y1="439.00" x2="412.00" y2="467.70" stroke="#555" stroke-width="0.7"/>
<path d="M409.20,469.50 L412.25,465.71 L413.95,468.42 Z" fill="#111"/>
<text x="416.00" y="452.50" font-size="12.2" text-anchor="start" font-weight="normal" font-style="normal" fill="#1a1a1a" stroke="#1a1a1a" stroke-width="0.28" transform="rotate(-30 416.00 452.50)">1,3&#160;&#160;(4x)</text>
<text x="342.00" y="520.20" font-size="9.8" text-anchor="start" font-weight="normal" font-style="italic" fill="#2a2a2a">Mounting holes</text>
<path d="M538.4,520.2 V512.8 H525.8 V516.2 H520.5 Q516.6,516.2 516.6,520.3 V540.3 Q516.6,544.6 520.5,544.6 H525.8 V548.1 H538.4 V541.1" stroke="#1c1c1c" stroke-width="1.3" fill="none" />
<path d="M538.4,520.2 H519.6 V541.1 H538.4" stroke="#1c1c1c" stroke-width="1.1" fill="none" />
<line x1="521.00" y1="520.20" x2="521.00" y2="541.10" stroke="#1c1c1c" stroke-width="1.0"/>
<line x1="525.50" y1="520.20" x2="525.50" y2="541.10" stroke="#1c1c1c" stroke-width="1.0"/>
<rect x="528.60" y="514.80" width="9.60" height="31.60" stroke="#1c1c1c" stroke-width="1.1" fill="#fff"/>
<rect x="528.60" y="514.80" width="9.60" height="5.40" stroke="#1c1c1c" stroke-width="0.8" fill="#333"/>
<rect x="528.60" y="541.10" width="9.60" height="5.30" stroke="#1c1c1c" stroke-width="0.8" fill="#333"/>
<line x1="530.60" y1="520.20" x2="530.60" y2="541.10" stroke="#1c1c1c" stroke-width="1.3"/>
<line x1="532.50" y1="520.20" x2="532.50" y2="541.10" stroke="#444" stroke-width="1.0" stroke-dasharray="2,1.2"/>
<rect x="528.40" y="528.40" width="8.60" height="4.90" stroke="#1c1c1c" stroke-width="1.1" fill="#777"/>
<path d="M585.0000000000001,520.2 V512.8 H597.6000000000001 V516.2 H602.9000000000001 Q606.8000000000001,516.2 606.8000000000001,520.3 V540.3 Q606.8000000000001,544.6 602.9000000000001,544.6 H597.6000000000001 V548.1 H585.0000000000001 V541.1" stroke="#1c1c1c" stroke-width="1.3" fill="none" />
<path d="M585.0000000000001,520.2 H603.8000000000001 V541.1 H585.0000000000001" stroke="#1c1c1c" stroke-width="1.1" fill="none" />
<line x1="602.40" y1="520.20" x2="602.40" y2="541.10" stroke="#1c1c1c" stroke-width="1.0"/>
<line x1="597.90" y1="520.20" x2="597.90" y2="541.10" stroke="#1c1c1c" stroke-width="1.0"/>
<rect x="585.20" y="514.80" width="9.60" height="31.60" stroke="#1c1c1c" stroke-width="1.1" fill="#fff"/>
<rect x="585.20" y="514.80" width="9.60" height="5.40" stroke="#1c1c1c" stroke-width="0.8" fill="#333"/>
<rect x="585.20" y="541.10" width="9.60" height="5.30" stroke="#1c1c1c" stroke-width="0.8" fill="#333"/>
<line x1="592.80" y1="520.20" x2="592.80" y2="541.10" stroke="#1c1c1c" stroke-width="1.3"/>
<line x1="590.90" y1="520.20" x2="590.90" y2="541.10" stroke="#444" stroke-width="1.0" stroke-dasharray="2,1.2"/>
<rect x="586.40" y="528.40" width="8.60" height="4.90" stroke="#1c1c1c" stroke-width="1.1" fill="#777"/>
<line x1="538.40" y1="521.80" x2="585.00" y2="521.80" stroke="#1c1c1c" stroke-width="1.3"/>
<line x1="538.40" y1="527.30" x2="585.00" y2="527.30" stroke="#1c1c1c" stroke-width="1.3"/>
<line x1="538.40" y1="533.20" x2="585.00" y2="533.20" stroke="#1c1c1c" stroke-width="1.3"/>
<line x1="538.40" y1="538.30" x2="585.00" y2="538.30" stroke="#1c1c1c" stroke-width="1.3"/>
<line x1="607.00" y1="520.70" x2="633.00" y2="520.70" stroke="#555" stroke-width="0.7"/>
<line x1="607.00" y1="541.40" x2="633.00" y2="541.40" stroke="#555" stroke-width="0.7"/>
<line x1="629.30" y1="520.70" x2="629.30" y2="541.40" stroke="#555" stroke-width="0.7"/>
<path d="M629.30,520.70 L631.20,525.70 L627.40,525.70 Z" fill="#111"/>
<path d="M629.30,541.40 L627.40,536.40 L631.20,536.40 Z" fill="#111"/>
<text x="622.80" y="531.20" font-size="12.2" text-anchor="middle" font-weight="normal" font-style="normal" fill="#1a1a1a" stroke="#1a1a1a" stroke-width="0.28" transform="rotate(-90 622.80 531.20)">5.4</text>
<text x="630.70" y="625.30" font-size="9.5" text-anchor="start" font-weight="bold" font-style="normal" fill="#111" letter-spacing="0.15">IEC&#160;127-6</text>
<text x="630.70" y="642.90" font-size="9.5" text-anchor="start" font-weight="bold" font-style="normal" fill="#111" letter-spacing="0.15">UL 512</text>
<path d="M695.3,611.7 L705.8,623.8 H684.7 Z" stroke="#222" stroke-width="1.1" fill="none" />
<path d="M686.8,623.8 V627.5 H703.7 V623.8" stroke="#222" stroke-width="1.1" fill="none" />
<text x="691.40" y="622.40" font-size="3.8" text-anchor="middle" font-weight="bold" font-style="normal" fill="#222">D</text>
<text x="695.30" y="618.60" font-size="3.2" text-anchor="middle" font-weight="bold" font-style="normal" fill="#222">V</text>
<text x="699.00" y="622.40" font-size="3.8" text-anchor="middle" font-weight="bold" font-style="normal" fill="#222">E</text>
<circle cx="723.70" cy="620.60" r="8.60" stroke="#222" stroke-width="1.2" fill="none"/>
<path d="M727.2,616.2 C724,614.6 719.5,615.2 720.2,617.4 L727.4,622.6 C728.4,625.4 723.4,625.6 720.0,624.6" stroke="#222" stroke-width="1.3" fill="none" />
<text x="684.20" y="643.30" font-size="15" text-anchor="middle" font-weight="bold" font-style="italic" fill="#111" letter-spacing="-1.5">ЯU</text>
<text x="696.80" y="636.80" font-size="5" text-anchor="middle" font-weight="normal" font-style="normal" fill="#444">*</text>
<path d="M694.6,647.7 A5.9,5.9 0 0 0 694.6,659.5" stroke="#111" stroke-width="1.7" fill="none" />
<path d="M704.6,647.7 A5.9,5.9 0 0 0 704.6,659.5 M698.8,653.6 H703.8" stroke="#111" stroke-width="1.7" fill="none" />
<text x="745.30" y="627.80" font-size="6.4" text-anchor="middle" font-weight="normal" font-style="normal" fill="#222" transform="rotate(-90 745.30 627.80)" letter-spacing="-0.1">*Pending</text>
</svg>
<!--/SVG-->
<!--ROWS-->
<div class="cell" style="left:3.5px;top:681.0px;">Corpo isolante Bianco</div>
<div class="cell i" style="left:156.5px;top:681.0px;">Insulating body White</div>
<div class="cell" style="left:308.5px;top:681.0px;">Corps isolant Blanc</div>
<div class="cell i" style="left:461.6px;top:681.0px;">Isolierkörper Weiß</div>
<div class="cell" style="left:614.2px;top:681.0px;">PBT UL 94 V0</div>
<div class="cell" style="left:3.5px;top:698.7px;">Contatti</div>
<div class="cell i" style="left:156.5px;top:698.7px;">Contacts</div>
<div class="cell" style="left:308.5px;top:698.7px;">Contacts</div>
<div class="cell i" style="left:461.6px;top:698.7px;">Kontakte</div>
<div class="cell" style="left:614.2px;top:698.7px;">CuSn 7 + Sn</div>
<div class="cell" style="left:3.5px;top:716.6px;">Foro di montaggio</div>
<div class="cell i" style="left:156.5px;top:716.6px;">P.C.B. mounting hole</div>
<div class="cell" style="left:308.5px;top:716.6px;">Perçage C.I.</div>
<div class="cell i" style="left:461.6px;top:716.6px;">Leiterplattenbohrung</div>
<div class="cell" style="left:614.2px;top:716.6px;">Ø 1,3&nbsp; mm</div>
<div class="cell" style="left:3.5px;top:734.3px;">Categoria</div>
<div class="cell i" style="left:156.5px;top:734.3px;">Class</div>
<div class="cell" style="left:308.5px;top:734.3px;">Catégorie</div>
<div class="cell i" style="left:461.6px;top:734.3px;">Baureihe</div>
<div class="cell" style="left:614.2px;top:734.3px;">PC1</div>
<div class="cell" style="left:3.5px;top:752.0px;">Corrente nominale</div>
<div class="cell i" style="left:156.5px;top:752.0px;">Nominal current</div>
<div class="cell" style="left:308.5px;top:752.0px;">Courant nominal</div>
<div class="cell i" style="left:461.6px;top:752.0px;">Strombelastbarkeit</div>
<div class="cell" style="left:614.2px;top:752.0px;">6,3 A</div>
<div class="cell" style="left:3.5px;top:770.0px;">Tensione</div>
<div class="cell i" style="left:156.5px;top:770.0px;">Voltage</div>
<div class="cell" style="left:308.5px;top:770.0px;">Tension</div>
<div class="cell i" style="left:461.6px;top:770.0px;">Betriebsspannung</div>
<div class="cell" style="left:614.2px;top:770.0px;">250 V</div>
<div class="cell" style="left:3.5px;top:788.0px;">Potenza dissipabile</div>
<div class="cell i" style="left:156.5px;top:788.0px;">Operating power</div>
<div class="cell" style="left:308.5px;top:788.0px;">Puissance dissipable</div>
<div class="cell i" style="left:461.6px;top:788.0px;">Ausgangsleistung</div>
<div class="cell" style="left:614.2px;top:788.0px;">1,6 W</div>
<div class="cell" style="left:3.5px;top:805.9px;">Resistenza di contatto</div>
<div class="cell i" style="left:156.5px;top:805.9px;">Contact resistance</div>
<div class="cell" style="left:308.5px;top:805.9px;">Résistance de contact</div>
<div class="cell i" style="left:461.6px;top:805.9px;">Übergangswiderstand</div>
<div class="cell" style="left:614.2px;top:805.9px;">&lt; 5 m Ω</div>
<div class="cell" style="left:3.5px;top:823.7px;">Resistenza di isolamento</div>
<div class="cell i" style="left:156.5px;top:823.7px;">Insulation resistance</div>
<div class="cell" style="left:308.5px;top:823.7px;">Résistance d’isolement</div>
<div class="cell i" style="left:461.6px;top:823.7px;">Isolationswiderstand</div>
<div class="cell" style="left:614.2px;top:823.7px;">&gt;10<span style="font-size:7px;position:relative;top:-3.5px">2</span> M Ω</div>
<div class="cell" style="left:3.5px;top:841.5px;">Rigidità dielettrica</div>
<div class="cell i" style="left:156.5px;top:841.5px;">Dielectric strength</div>
<div class="cell" style="left:308.5px;top:841.5px;">Rigidité diélectrique</div>
<div class="cell i" style="left:461.6px;top:841.5px;">Durchschlagsfestigkeit</div>
<div class="cell" style="left:614.2px;top:841.5px;">&gt; 3000 Vac / 60 "</div>
<!--/ROWS-->
</body></html>
